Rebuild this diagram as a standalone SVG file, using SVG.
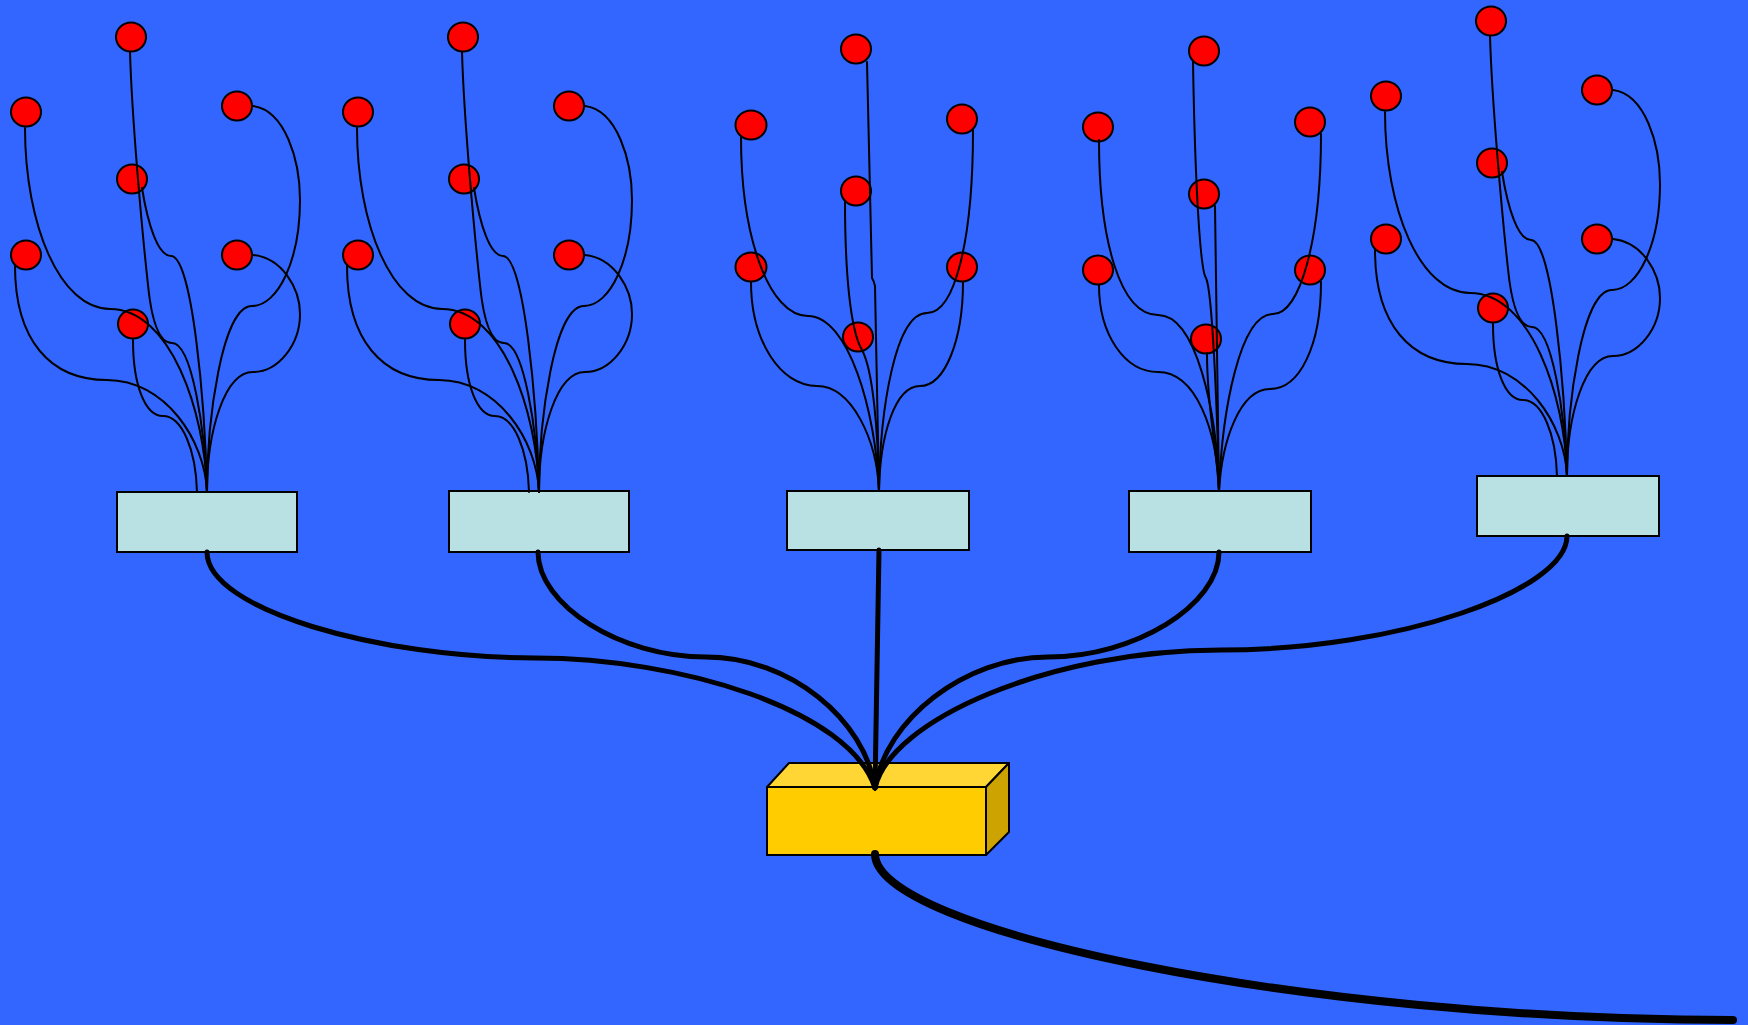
<svg xmlns="http://www.w3.org/2000/svg" width="1748" height="1025" viewBox="0 0 1748 1025">
<style>
.bg{fill:#3366FF}
.leaf{fill:#FF0000;stroke:#000;stroke-width:2}
.box{fill:#B9E0E3;stroke:#000;stroke-width:2}
.wire{fill:none;stroke:#000;stroke-width:2;stroke-linecap:round}
.trunk{fill:none;stroke:#000;stroke-width:5;stroke-linecap:round}
.main{fill:none;stroke:#000;stroke-width:8;stroke-linecap:round}
.ytop{fill:#FFD633;stroke:#000;stroke-width:2;stroke-linejoin:round}
.yfront{fill:#FFCC00;stroke:#000;stroke-width:2}
.yside{fill:#CCA300;stroke:#000;stroke-width:2;stroke-linejoin:round}
</style>
<rect class="bg" x="0" y="0" width="1748" height="1025"/>

<!-- Tree 1 nodes -->
<g id="tree1">
  <g id="t1-leaf1"><ellipse class="leaf" cx="131" cy="37" rx="15" ry="14.5"/></g>
  <g id="t1-leaf2"><ellipse class="leaf" cx="26" cy="112" rx="15" ry="14.5"/></g>
  <g id="t1-leaf3"><ellipse class="leaf" cx="132" cy="179" rx="15" ry="14.5"/></g>
  <g id="t1-leaf4"><ellipse class="leaf" cx="237" cy="106" rx="15" ry="14.5"/></g>
  <g id="t1-leaf5"><ellipse class="leaf" cx="26" cy="255" rx="15" ry="14.5"/></g>
  <g id="t1-leaf6"><ellipse class="leaf" cx="237" cy="255" rx="15" ry="14.5"/></g>
  <g id="t1-leaf7"><ellipse class="leaf" cx="133" cy="324" rx="15" ry="14.5"/></g>
  <g id="t1-box"><rect class="box" x="117" y="492" width="180" height="60"/></g>
</g>
<!-- Tree 2 nodes -->
<g id="tree2" transform="translate(332,0)">
  <g id="t2-leaf1"><ellipse class="leaf" cx="131" cy="37" rx="15" ry="14.5"/></g>
  <g id="t2-leaf2"><ellipse class="leaf" cx="26" cy="112" rx="15" ry="14.5"/></g>
  <g id="t2-leaf3"><ellipse class="leaf" cx="132" cy="179" rx="15" ry="14.5"/></g>
  <g id="t2-leaf4"><ellipse class="leaf" cx="237" cy="106" rx="15" ry="14.5"/></g>
  <g id="t2-leaf5"><ellipse class="leaf" cx="26" cy="255" rx="15" ry="14.5"/></g>
  <g id="t2-leaf6"><ellipse class="leaf" cx="237" cy="255" rx="15" ry="14.5"/></g>
  <g id="t2-leaf7"><ellipse class="leaf" cx="133" cy="324" rx="15" ry="14.5"/></g>
  <g id="t2-box"><rect class="box" x="117" y="491" width="180" height="61"/></g>
</g>
<!-- Tree 3 nodes -->
<g id="tree3">
  <g id="t3-leaf1"><ellipse class="leaf" cx="856" cy="49" rx="15" ry="14.5"/></g>
  <g id="t3-leaf2"><ellipse class="leaf" cx="751" cy="125" rx="15.5" ry="14.5"/></g>
  <g id="t3-leaf3"><ellipse class="leaf" cx="962" cy="119" rx="15" ry="14.5"/></g>
  <g id="t3-leaf4"><ellipse class="leaf" cx="856" cy="191" rx="15" ry="14.5"/></g>
  <g id="t3-leaf5"><ellipse class="leaf" cx="751" cy="267" rx="15.5" ry="14.5"/></g>
  <g id="t3-leaf6"><ellipse class="leaf" cx="962" cy="267" rx="15" ry="14.5"/></g>
  <g id="t3-leaf7"><ellipse class="leaf" cx="858" cy="337" rx="15" ry="14.5"/></g>
  <g id="t3-box"><rect class="box" x="787" y="491" width="182" height="59"/></g>
</g>
<!-- Tree 4 nodes -->
<g id="tree4">
  <g id="t4-leaf1"><ellipse class="leaf" cx="1204" cy="51" rx="15" ry="14.5"/></g>
  <g id="t4-leaf2"><ellipse class="leaf" cx="1098" cy="127" rx="15" ry="14.5"/></g>
  <g id="t4-leaf3"><ellipse class="leaf" cx="1310" cy="122" rx="15" ry="14.5"/></g>
  <g id="t4-leaf4"><ellipse class="leaf" cx="1204" cy="194" rx="15" ry="14.5"/></g>
  <g id="t4-leaf5"><ellipse class="leaf" cx="1098" cy="270" rx="15" ry="14.5"/></g>
  <g id="t4-leaf6"><ellipse class="leaf" cx="1310" cy="270" rx="15" ry="14.5"/></g>
  <g id="t4-leaf7"><ellipse class="leaf" cx="1206" cy="339" rx="15" ry="14.5"/></g>
  <g id="t4-box"><rect class="box" x="1129" y="491" width="182" height="61"/></g>
</g>
<!-- Tree 5 nodes -->
<g id="tree5" transform="translate(1360,-16)">
  <g id="t5-leaf1"><ellipse class="leaf" cx="131" cy="37" rx="15" ry="14.5"/></g>
  <g id="t5-leaf2"><ellipse class="leaf" cx="26" cy="112" rx="15" ry="14.5"/></g>
  <g id="t5-leaf3"><ellipse class="leaf" cx="132" cy="179" rx="15" ry="14.5"/></g>
  <g id="t5-leaf4"><ellipse class="leaf" cx="237" cy="106" rx="15" ry="14.5"/></g>
  <g id="t5-leaf5"><ellipse class="leaf" cx="26" cy="255" rx="15" ry="14.5"/></g>
  <g id="t5-leaf6"><ellipse class="leaf" cx="237" cy="255" rx="15" ry="14.5"/></g>
  <g id="t5-leaf7"><ellipse class="leaf" cx="133" cy="324" rx="15" ry="14.5"/></g>
  <g id="t5-box"><rect class="box" x="117" y="492" width="182" height="60"/></g>
</g>
<!-- Central yellow box -->
<g id="hub">
  <polygon class="ytop" points="767,787 789,763 1009,763 986,787"/>
  <polygon class="yside" points="986,787 1009,763 1009,832 986,855"/>
  <rect class="yfront" x="767" y="787" width="219" height="68"/>
</g>

<g id="connectors">
  <g id="wires-t1">
    <path class="wire" d="M130,52 C132,120 142,230 148,285 C152,325 160,343 172,343 C192,343 205,430 207,492"/>
    <path class="wire" d="M142,188 C148,225 158,256 171,256 C192,256 205,400 207,492"/>
    <path class="wire" d="M25,128 C25,225 60,309 110,309 C170,309 205,410 207,492"/>
    <path class="wire" d="M15,266 C15,340 50,380 107,380 C165,380 205,440 207,492"/>
    <path class="wire" d="M133,340 C133,385 145,416 163,416 C182,416 196,450 197,492"/>
    <path class="wire" d="M253,106 C285,110 300,160 300,200 C300,260 278,306 252,306 C222,306 207,420 207,492"/>
    <path class="wire" d="M253,255 C282,258 300,288 300,314 C300,345 278,372 253,372 C225,372 207,430 207,492"/>
  </g>
  <g id="wires-t2" transform="translate(332,0)">
    <path class="wire" d="M130,52 C132,120 142,230 148,285 C152,325 160,343 172,343 C192,343 205,430 207,492"/>
    <path class="wire" d="M142,188 C148,225 158,256 171,256 C192,256 205,400 207,492"/>
    <path class="wire" d="M25,128 C25,225 60,309 110,309 C170,309 205,410 207,492"/>
    <path class="wire" d="M15,266 C15,340 50,380 107,380 C165,380 205,440 207,492"/>
    <path class="wire" d="M133,340 C133,385 145,416 163,416 C182,416 196,450 197,492"/>
    <path class="wire" d="M253,106 C285,110 300,160 300,200 C300,260 278,306 252,306 C222,306 207,420 207,492"/>
    <path class="wire" d="M253,255 C282,258 300,288 300,314 C300,345 278,372 253,372 C225,372 207,430 207,492"/>
  </g>
  <g id="wires-t3">
    <path class="wire" d="M867,62 L872,278 Q874,281 875,286 L879,491"/>
    <path class="wire" d="M845,201 C845,270 850,330 862,350 C873,370 878,430 879,491"/>
    <path class="wire" d="M741,137 C741,240 770,316 808,316 C848,316 876,410 879,491"/>
    <path class="wire" d="M751,282 C751,340 780,386 817,386 C852,386 877,440 879,491"/>
    <path class="wire" d="M973,130 C973,240 955,313 927,313 C895,313 880,410 879,491"/>
    <path class="wire" d="M963,282 C963,340 945,386 920,386 C895,386 880,435 879,491"/>
  </g>
  <g id="wires-t4">
    <path class="wire" d="M1193,62 C1195,180 1200,270 1206,278 C1212,290 1217,400 1219,491"/>
    <path class="wire" d="M1215,206 L1219,491"/>
    <path class="wire" d="M1207,353 C1207,410 1216,440 1219,491"/>
    <path class="wire" d="M1099,140 C1099,240 1120,315 1158,315 C1196,315 1217,410 1219,491"/>
    <path class="wire" d="M1099,285 C1099,335 1125,372 1158,372 C1196,372 1217,430 1219,491"/>
    <path class="wire" d="M1321,134 C1321,240 1300,314 1273,314 C1240,314 1222,410 1219,491"/>
    <path class="wire" d="M1321,282 C1321,345 1300,389 1270,389 C1240,389 1222,440 1219,491"/>
  </g>
  <g id="wires-t5" transform="translate(1360,-16)">
    <path class="wire" d="M130,52 C132,120 142,230 148,285 C152,325 160,343 172,343 C192,343 205,430 207,492"/>
    <path class="wire" d="M142,188 C148,225 158,256 171,256 C192,256 205,400 207,492"/>
    <path class="wire" d="M25,128 C25,225 60,309 110,309 C170,309 205,410 207,492"/>
    <path class="wire" d="M15,266 C15,340 50,380 107,380 C165,380 205,440 207,492"/>
    <path class="wire" d="M133,340 C133,385 145,416 163,416 C182,416 196,450 197,492"/>
    <path class="wire" d="M253,106 C285,110 300,160 300,200 C300,260 278,306 252,306 C222,306 207,420 207,492"/>
    <path class="wire" d="M253,255 C282,258 300,288 300,314 C300,345 278,372 253,372 C225,372 207,430 207,492"/>
  </g>
  <g id="trunks">
    <path class="trunk" d="M207,552 C207,610 380,658 535,658 C680,658 850,710 875,788"/>
    <path class="trunk" d="M538,552 C538,605 620,657 706,657 C790,657 865,720 875,788"/>
    <path class="trunk" d="M879,550 L875,788"/>
    <path class="trunk" d="M1219,552 C1219,605 1135,657 1048,657 C965,657 885,720 875,788"/>
    <path class="trunk" d="M1567,536 C1567,590 1400,650 1221,650 C1050,650 890,720 875,788"/>
    <path class="main" d="M875,854 C875,930 1300,1020 1733,1020"/>
  </g>
</g>
</svg>
